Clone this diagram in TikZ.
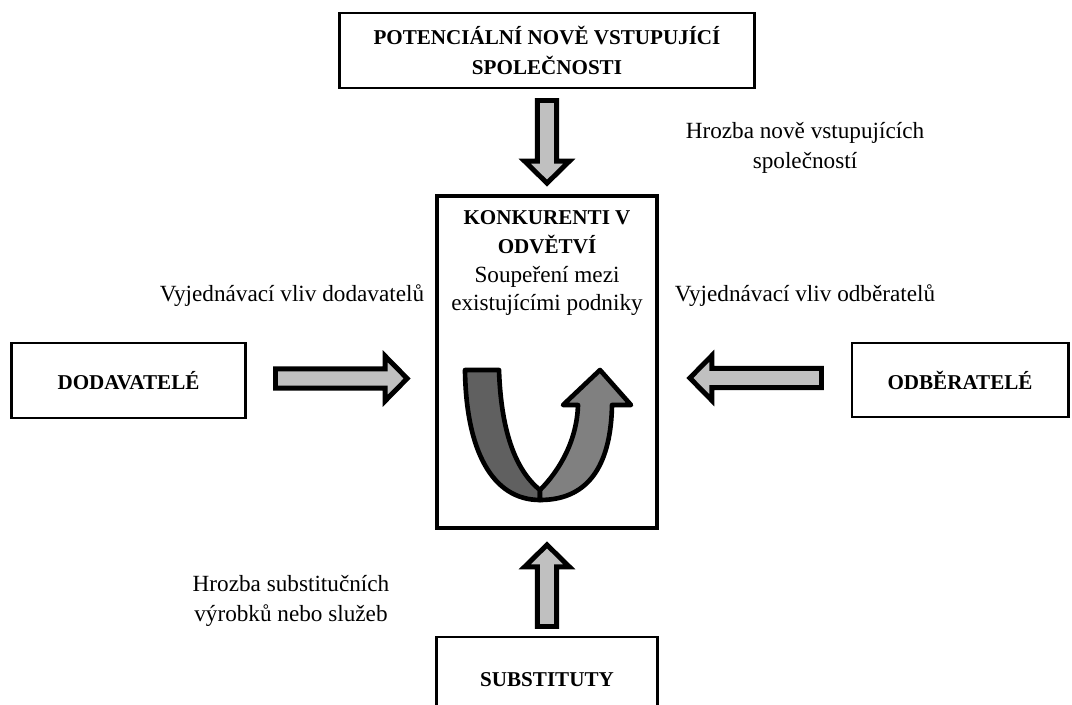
\documentclass[tikz,border=0pt]{standalone}
\usepackage{fontspec}
\setmainfont{Liberation Serif}
\usepackage{tikz}
\usetikzlibrary{calc}
\definecolor{arrowgray}{HTML}{C0C0C0}
\definecolor{banddark}{HTML}{606060}
\definecolor{bandlight}{HTML}{808080}

% block arrow from #1 (tail) to #2 (tip)
\newcommand{\blockarrow}[2]{%
  \coordinate (ah) at ($(#2)!0.55cm!(#1)$);
  \draw[bigarrow]
    ($(#1)!0.24cm!90:(#2)$) -- ($(ah)!0.24cm!90:(#2)$) -- ($(ah)!0.56cm!90:(#2)$)
    -- (#2) -- ($(ah)!0.56cm!-90:(#2)$) -- ($(ah)!0.24cm!-90:(#2)$)
    -- ($(#1)!0.24cm!-90:(#2)$) -- cycle;
}

\tikzset{
  force/.style={draw, line width=2.1pt, fill=white, align=center, inner sep=0pt,
    font=\bfseries\fontsize{15}{21}\selectfont},
  lbl/.style={align=center, font=\fontsize{16.5}{21}\selectfont},
  bigarrow/.style={draw, line width=3.5pt, fill=arrowgray, line join=miter},
  band/.style={draw, line width=3.3pt, line join=round}
}

\begin{document}
\begin{tikzpicture}[x=0.025cm, y=-0.025cm]

    \useasboundingbox (0,0) rectangle (1072,704);

    % Five forces
    \node[force, minimum width=10.375cm, minimum height=1.875cm] (newco) at (547,50.5)
      {POTENCIÁLNÍ NOVĚ VSTUPUJÍCÍ\\SPOLEČNOSTI};
    \node[force, line width=2.6pt, minimum width=5.5cm, minimum height=8.3cm] (rivals) at (547,362) {};
    \node[force, minimum width=5.825cm, minimum height=1.875cm] (suppl) at (128.5,380.5) {DODAVATELÉ};
    \node[force, minimum width=5.4cm, minimum height=1.85cm] (buyers) at (960,380) {ODBĚRATELÉ};
    \node[force, minimum width=5.525cm, minimum height=2.15cm] (subst) at (547,680) {SUBSTITUTY};

    % Text in the middle box
    \node[anchor=north, align=center, inner sep=0pt, font=\fontsize{16.5}{20.5}\selectfont]
      (rivalstxt) at ($(rivals.north)+(0,16)$)
      {{\bfseries\fontsize{15}{20.5}\selectfont KONKURENTI V}\\
       {\bfseries\fontsize{15}{20.5}\selectfont ODVĚTVÍ}\\
       Soupeření mezi\\
       existujícími podniky};

    % U-turn arrow
    \draw[band, fill=banddark]
      (465,370) -- (499,370) .. controls (501,430) and (515,470) .. (540,490)
      -- (540,500) .. controls (492,500) and (466,450) .. (465,370) -- cycle;
    \draw[band, fill=bandlight]
      (540,490) .. controls (560,470) and (577,440) .. (578,405) -- (563,405)
      -- (600,370) -- (631,405) -- (612,405)
      .. controls (611,460) and (592,500) .. (540,500) -- cycle;

    % Block arrows
    \coordinate (topA) at ($(newco.south)+(0,11)$);
    \coordinate (topB) at ($(rivals.north)+(0,-11)$);
    \blockarrow{topA}{topB}

    \coordinate (botA) at ($(subst.north)+(0,-9)$);
    \coordinate (botB) at ($(rivals.south)+(0,15)$);
    \blockarrow{botA}{botB}

    \coordinate (leftA) at ($(suppl.east)+(29,-2)$);
    \coordinate (leftB) at ($(rivals.west |- leftA)+(-28,0)$);
    \blockarrow{leftA}{leftB}

    \coordinate (rightA) at ($(buyers.west)+(-29,-2)$);
    \coordinate (rightB) at ($(rivals.east |- rightA)+(31,0)$);
    \blockarrow{rightA}{rightB}

    % Labels
    \node[lbl] (newlbl) at (805,148) {Hrozba nově vstupujících\\společností};
    \node[lbl] (suppllbl) at (292,296) {Vyjednávací vliv dodavatelů};
    \node[lbl] (buyerslbl) at (805,296) {Vyjednávací vliv odběratelů};
    \node[lbl] (substlbl) at (291,601) {Hrozba substitučních\\výrobků nebo služeb};

  \end{tikzpicture}
\end{document}
